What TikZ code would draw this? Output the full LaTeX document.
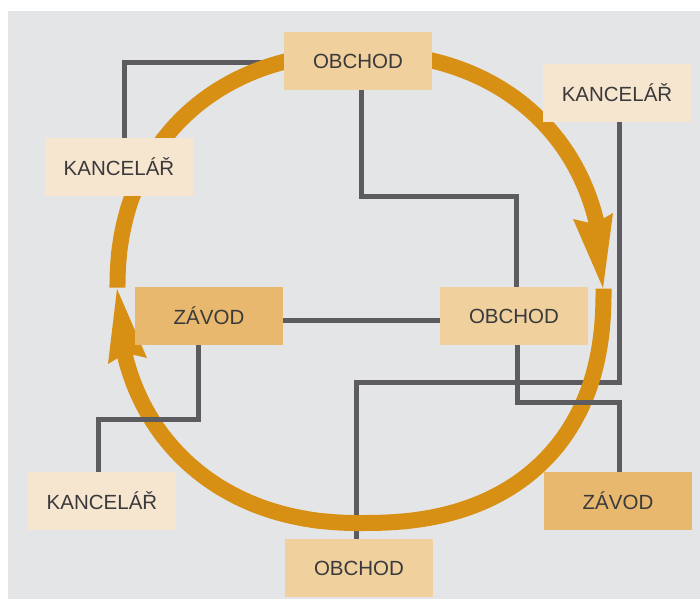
\documentclass[tikz,border=0pt]{standalone}
\usepackage{fontspec}
\setmainfont{Liberation Sans}
\definecolor{bgc}{HTML}{E4E5E7}
\definecolor{arcc}{HTML}{D78F14}
\definecolor{linec}{HTML}{5B5B60}
\definecolor{obc}{HTML}{F0D09D}
\definecolor{kac}{HTML}{F7E6CF}
\definecolor{zac}{HTML}{E8B86F}
\definecolor{txtc}{HTML}{3A3A3C}
\pgfdeclarelayer{back}
\pgfdeclarelayer{lines}
\pgfdeclarelayer{arcs}
\pgfdeclarelayer{front}
\pgfsetlayers{back,lines,arcs,front,main}
\begin{document}
\begin{tikzpicture}[x=1pt,y=-1pt,
  box/.style={minimum width=148pt,minimum height=58pt,inner sep=0pt,text=txtc,
    font=\fontsize{20.5}{24}\selectfont},
  obbox/.style={box,fill=obc},
  kabox/.style={box,fill=kac},
  zabox/.style={box,fill=zac},
  conn/.style={draw=linec,line width=5pt},
  flow/.style={draw=arcc,line width=16pt},
  head/.style={fill=arcc},
  declare function={
    sp(\u,\p)=sign(\u)*(abs(\u)+0.0001)^\p;
    pw(\v)=(\v<90) ? 0.85 : 0.917;}]
\useasboundingbox (0,0) rectangle (700,599);
\begin{pgfonlayer}{back}
  \fill[bgc] (8,11) rectangle (700,599);
\end{pgfonlayer}
% boxes
\node[obbox] (ob1) at (358,61) {OBCHOD};
\node[kabox] (k1) at (119,167) {KANCELÁŘ};
\node[kabox] (k2) at (617,93) {KANCELÁŘ};
\node[zabox] (z1) at (209,316) {ZÁVOD};
\node[obbox] (ob2) at (514,316) {OBCHOD};
\node[kabox] (k3) at (102,501) {KANCELÁŘ};
\node[obbox] (ob3) at (359,568) {OBCHOD};
\node[zabox] (z2) at (618,501) {ZÁVOD};
% connectors behind the flow
\begin{pgfonlayer}{lines}
  \draw[conn] ([xshift=5pt]k1.north) |- ([yshift=-2pt]ob1.west);
  \draw[conn] ([xshift=3pt]ob1.south) -- ++(0,106) -| ([xshift=2pt]ob2.north);
  \draw[conn] ([xshift=2pt]k2.south) -- ++(0,260) -| ([xshift=-3pt]ob3.north);
  \draw[conn] ([yshift=-4pt]z1.east) -- ([yshift=-4pt]ob2.west);
\end{pgfonlayer}
% flow
\begin{pgfonlayer}{arcs}
  \draw[flow] plot[domain=180.05:346,samples=140,variable=\t]
    ({360.5+243*sp(cos(\t),0.917)},{288+235*sp(sin(\t),0.917)});
  \draw[flow] plot[domain=0.05:165.75,samples=160,variable=\t]
    ({360.5+243*sp(cos(\t),pw(\t))},{288+235*sp(sin(\t),pw(\t))});
  \fill[head] (603,288) -- (573,219) -- (594,224) -- (613,213) -- cycle;
  \fill[head] (117,289) -- (108,364) -- (126,353) -- (147,358) -- cycle;
\end{pgfonlayer}
% connectors over the flow
\begin{pgfonlayer}{front}
  \draw[conn] ([xshift=-11pt]z1.south) -- ++(0,74) -| ([xshift=-4pt]k3.north);
  \draw[conn] ([xshift=3pt]ob2.south) -- ++(0,57) -| ([xshift=1pt]z2.north);
\end{pgfonlayer}
\end{tikzpicture}
\end{document}
